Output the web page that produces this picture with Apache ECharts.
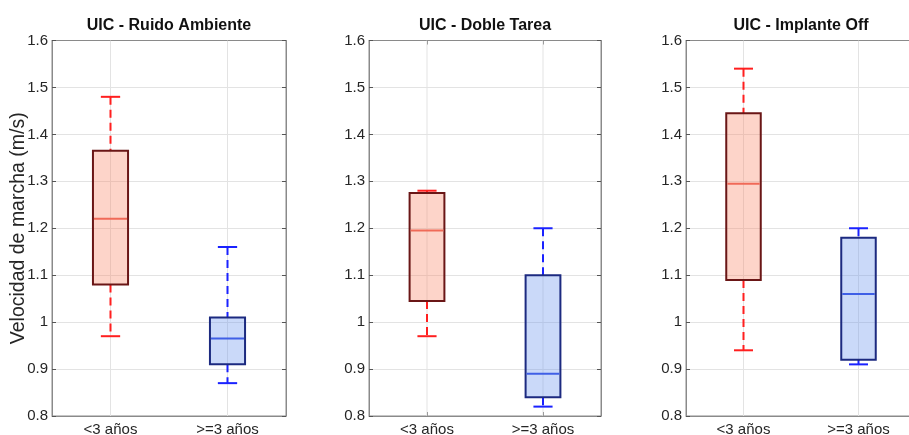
<!DOCTYPE html>
<html>
<head>
<meta charset="utf-8">
<script src="https://cdn.jsdelivr.net/npm/echarts@6/dist/echarts.min.js"></script>
<style>
  html, body { margin: 0; padding: 0; background: #fff; }
  #chart { width: 909px; height: 435px; }
</style>
</head>
<body>
<div id="chart"></div>
<script>
// Gait speed (m/s) by time since implant, three listening conditions
const categories = ['<3 años', '>=3 años'];
const panelTitles = ['UIC - Ruido Ambiente', 'UIC - Doble Tarea', 'UIC - Implante Off'];
const yTicks = [0.8, 0.9, 1.0, 1.1, 1.2, 1.3, 1.4, 1.5, 1.6];

// Box statistics per group: [min, Q1, median, Q3, max]
const ruidoAmbiente = [
  [0.97, 1.08, 1.22, 1.365, 1.48],
  [0.87, 0.91, 0.965, 1.01, 1.16]
];
const dobleTarea = [
  [0.97, 1.045, 1.195, 1.275, 1.28],
  [0.82, 0.84, 0.89, 1.10, 1.20]
];
const implanteOff = [
  [0.94, 1.09, 1.295, 1.445, 1.54],
  [0.91, 0.92, 1.06, 1.18, 1.20]
];
const panels = [ruidoAmbiente, dobleTarea, implanteOff];

const groupStyles = [
  { fill: 'rgba(250,135,105,0.36)', border: '#6a1616', median: '#f06a58', whisker: '#ff1f1f' },
  { fill: 'rgba(115,155,240,0.38)', border: '#1c2a80', median: '#3f5fe6', whisker: '#1a22ff' }
];

// the last panel runs past the right edge of the page
const gridBoxes = [
  { left: 52, width: 234 },
  { left: 369, width: 232 },
  { left: 686, width: 230 }
];
const plotTop = 40.5, plotHeight = 375.5;
const yMin = yTicks[0], yMax = yTicks[yTicks.length - 1];
const font = 'Liberation Sans, Arial, Helvetica, sans-serif';

function renderBox(params, api) {
  const xi = api.value(0);
  const st = groupStyles[xi];
  const band = api.size([1, 0])[0];
  const boxW = band * 0.3;
  const capW = band * 0.165;
  const pt = v => api.coord([xi, v]);
  const pMin = pt(api.value(1)), pQ1 = pt(api.value(2)), pMed = pt(api.value(3));
  const pQ3 = pt(api.value(4)), pMax = pt(api.value(5));
  const cx = pMed[0];
  const gTop = pt(yMax), gBot = pt(yMin);
  const dash = { stroke: st.whisker, lineWidth: 2, lineDash: [8, 5] };
  const solidCap = { stroke: st.whisker, lineWidth: 2 };
  return {
    type: 'group',
    children: [
      // vertical grid line at the category position
      { type: 'line', shape: { x1: cx, y1: gTop[1], x2: cx, y2: gBot[1] },
        style: { stroke: '#e3e3e3', lineWidth: 1 }, silent: true },
      // whiskers
      { type: 'line', shape: { x1: cx, y1: pMax[1], x2: cx, y2: pQ3[1] }, style: dash },
      { type: 'line', shape: { x1: cx, y1: pQ1[1], x2: cx, y2: pMin[1] }, style: dash },
      { type: 'line', shape: { x1: cx - capW / 2, y1: pMax[1], x2: cx + capW / 2, y2: pMax[1] }, style: solidCap },
      { type: 'line', shape: { x1: cx - capW / 2, y1: pMin[1], x2: cx + capW / 2, y2: pMin[1] }, style: solidCap },
      // box
      { type: 'rect', shape: { x: cx - boxW / 2, y: pQ3[1], width: boxW, height: pQ1[1] - pQ3[1] },
        style: { fill: st.fill, stroke: st.border, lineWidth: 2 } },
      // median
      { type: 'line', shape: { x1: cx - boxW / 2 + 1, y1: pMed[1], x2: cx + boxW / 2 - 1, y2: pMed[1] },
        style: { stroke: st.median, lineWidth: 2 } }
    ]
  };
}

const grid = [], xAxis = [], yAxis = [], series = [], title = [];
panels.forEach((stats, i) => {
  const g = gridBoxes[i];
  grid.push({ left: g.left, width: g.width, top: plotTop, height: plotHeight,
    containLabel: false, outerBoundsMode: 'none',
    show: true, borderColor: '#8a8a8a', borderWidth: 1, backgroundColor: 'transparent' });
  title.push({
    text: panelTitles[i], left: g.left + g.width / 2, top: 18, textAlign: 'center', padding: 0,
    textStyle: { fontFamily: font, fontSize: 16, fontWeight: 'bold', color: '#111' }
  });
  xAxis.push({
    type: 'category', gridIndex: i, data: categories, boundaryGap: true,
    axisLine: { show: true, lineStyle: { color: '#8a8a8a', width: 1 } },
    axisTick: { show: true, inside: true, alignWithLabel: true, length: 4, lineStyle: { color: '#555' } },
    axisLabel: { fontFamily: font, fontSize: 15, color: '#262626', margin: 6 },
    splitLine: { show: false }
  });
  xAxis.push({
    type: 'category', gridIndex: i, data: categories, position: 'top', boundaryGap: true,
    axisLine: { show: true, lineStyle: { color: '#8a8a8a', width: 1 } },
    axisTick: { show: true, inside: true, alignWithLabel: true, length: 4, lineStyle: { color: '#555' } },
    axisLabel: { show: false }, splitLine: { show: false }
  });
  yAxis.push({
    type: 'value', gridIndex: i, min: yMin, max: yMax, interval: 0.1,
    name: i === 0 ? 'Velocidad de marcha (m/s)' : '',
    nameLocation: 'middle', nameGap: 23, nameMoveOverlap: false,
    nameTextStyle: { fontFamily: font, fontSize: 19.5, color: '#262626' },
    axisLine: { show: true, lineStyle: { color: '#8a8a8a', width: 1 } },
    axisTick: { show: true, inside: true, length: 4, lineStyle: { color: '#555' } },
    axisLabel: { fontFamily: font, fontSize: 15, color: '#262626', margin: 4,
      formatter: v => (Math.round(v * 10) / 10).toString() },
    splitLine: { show: true, lineStyle: { color: '#e3e3e3', width: 1 } }
  });
  yAxis.push({
    type: 'value', gridIndex: i, min: yMin, max: yMax, interval: 0.1, position: 'right',
    axisLine: { show: true, lineStyle: { color: '#8a8a8a', width: 1 } },
    axisTick: { show: true, inside: true, length: 4, lineStyle: { color: '#555' } },
    axisLabel: { show: false }, splitLine: { show: false }
  });
  series.push({
    type: 'custom', xAxisIndex: i * 2, yAxisIndex: i * 2,
    renderItem: renderBox, clip: false,
    encode: { x: 0, y: [1, 2, 3, 4, 5] },
    data: stats.map((s, k) => [k].concat(s))
  });
});

const chart = echarts.init(document.getElementById('chart'), null, { renderer: 'canvas' });
chart.setOption({
  animation: false,
  backgroundColor: '#ffffff',
  title, grid, xAxis, yAxis, series
});
</script>
</body>
</html>
